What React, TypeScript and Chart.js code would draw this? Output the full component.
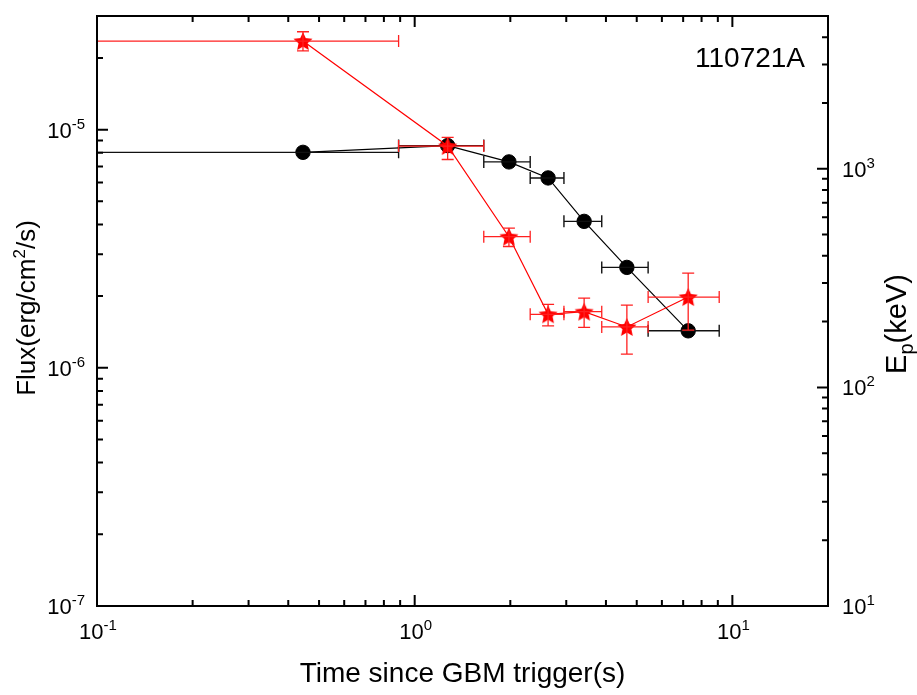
import React, { useEffect, useRef } from "react";
import { Chart, registerables } from "chart.js";

Chart.register(...registerables);

// ---- data ----
const timeCenters = [0.445, 1.27, 1.98, 2.63, 3.415, 4.655, 7.26];
const timeLow = [0, 0.89, 1.65, 2.31, 2.95, 3.88, 5.43];
const timeHigh = [0.89, 1.65, 2.31, 2.95, 3.88, 5.43, 9.09];
const fluxValues = [8.03e-6, 8.57e-6, 7.32e-6, 6.27e-6, 4.12e-6, 2.64e-6, 1.43e-6];
const epValues = [3838, 1271, 489, 216, 222, 189, 259];
const epUpper = [4236, 1392, 535, 240, 256, 238, 333];
const epLower = [3461, 1103, 441, 191, 188, 142, 183];

// ---- axes ----
const xRange = [0.1, 20];
const fluxRange = [1e-7, 3e-5];
const epRange = [10, 5000];
const xMajorTicks = [0.1, 1, 10];
const xTickExponents = ["-1", "0", "1"];
const fluxMajorTicks = [1e-7, 1e-6, 1e-5];
const fluxTickExponents = ["-7", "-6", "-5"];
const epMajorTicks = [10, 100, 1000];
const epTickExponents = ["1", "2", "3"];

const grbName = "110721A";
const xTitle = "Time since GBM trigger(s)";

const FONT = '"Liberation Sans", Arial, Helvetica, sans-serif';

type Part = { t: string; size: number; dy: number };

function drawRich(ctx: CanvasRenderingContext2D, parts: Part[], x: number, y: number, align: "left" | "center" | "right") {
  const widths = parts.map((p) => {
    ctx.font = `${p.size}px ${FONT}`;
    return ctx.measureText(p.t).width;
  });
  const total = widths.reduce((a, b) => a + b, 0);
  let sx = align === "left" ? x : align === "center" ? x - total / 2 : x - total;
  ctx.textAlign = "left";
  ctx.textBaseline = "alphabetic";
  parts.forEach((p, i) => {
    ctx.font = `${p.size}px ${FONT}`;
    ctx.fillText(p.t, sx, y + p.dy);
    sx += widths[i];
  });
}

function minorTicks(majors: number[], min: number, max: number) {
  const out: number[] = [];
  majors.concat([majors[majors.length - 1] * 10]).forEach((m) => {
    for (let k = 2; k <= 9; k++) {
      const v = k * m;
      if (v > min * 1.0001 && v < max * 0.9999) out.push(v);
    }
  });
  return out;
}

function makeStar(): HTMLCanvasElement {
  const c = document.createElement("canvas");
  c.width = 26;
  c.height = 26;
  const g = c.getContext("2d")!;
  const R = 10;
  const r = 4.7;
  g.beginPath();
  for (let i = 0; i < 10; i++) {
    const ang = -Math.PI / 2 + (i * Math.PI) / 5;
    const rad = i % 2 === 0 ? R : r;
    const px = 13 + rad * Math.cos(ang);
    const py = 13.9 + rad * Math.sin(ang);
    if (i === 0) g.moveTo(px, py);
    else g.lineTo(px, py);
  }
  g.closePath();
  g.fillStyle = "#ff0000";
  g.fill();
  return c;
}

export default function App() {
  const canvasRef = useRef<HTMLCanvasElement | null>(null);

  useEffect(() => {
    const canvas = canvasRef.current;
    if (!canvas) return;
    const star = makeStar();

    const errorBarPlugin = {
      id: "errorBars",
      afterDatasetDraw(chart: any, args: any) {
        const ctx: CanvasRenderingContext2D = chart.ctx;
        const xs = chart.scales.x;
        const area = chart.chartArea;
        ctx.save();
        ctx.beginPath();
        ctx.rect(area.left, area.top, area.right - area.left, area.bottom - area.top);
        ctx.clip();
        const cap = 6;
        if (args.index === 1) {
          const ys = chart.scales.yFlux;
          ctx.strokeStyle = "#111111";
          ctx.lineWidth = 1.4;
          timeCenters.forEach((t, i) => {
            const y = ys.getPixelForValue(fluxValues[i]);
            const x0 = xs.getPixelForValue(timeLow[i]);
            const x1 = xs.getPixelForValue(timeHigh[i]);
            ctx.beginPath();
            ctx.moveTo(x0, y);
            ctx.lineTo(x1, y);
            ctx.moveTo(x0, y - cap);
            ctx.lineTo(x0, y + cap);
            ctx.moveTo(x1, y - cap);
            ctx.lineTo(x1, y + cap);
            ctx.stroke();
          });
        } else if (args.index === 0) {
          const ys = chart.scales.yEp;
          ctx.strokeStyle = "#ff2020";
          ctx.lineWidth = 1.3;
          timeCenters.forEach((t, i) => {
            const x = xs.getPixelForValue(t);
            const y = ys.getPixelForValue(epValues[i]);
            const x0 = xs.getPixelForValue(timeLow[i]);
            const x1 = xs.getPixelForValue(timeHigh[i]);
            const yU = ys.getPixelForValue(epUpper[i]);
            const yL = ys.getPixelForValue(epLower[i]);
            ctx.beginPath();
            ctx.moveTo(x0, y);
            ctx.lineTo(x1, y);
            ctx.moveTo(x0, y - cap);
            ctx.lineTo(x0, y + cap);
            ctx.moveTo(x1, y - cap);
            ctx.lineTo(x1, y + cap);
            ctx.moveTo(x, yU);
            ctx.lineTo(x, yL);
            ctx.moveTo(x - cap, yU);
            ctx.lineTo(x + cap, yU);
            ctx.moveTo(x - cap, yL);
            ctx.lineTo(x + cap, yL);
            ctx.stroke();
          });
        }
        ctx.restore();
      },
    };

    const framePlugin = {
      id: "frame",
      beforeDraw(chart: any) {
        const ctx: CanvasRenderingContext2D = chart.ctx;
        ctx.save();
        ctx.fillStyle = "#ffffff";
        ctx.fillRect(0, 0, chart.width, chart.height);
        ctx.restore();
      },
      afterDraw(chart: any) {
        const ctx: CanvasRenderingContext2D = chart.ctx;
        const a = chart.chartArea;
        const xs = chart.scales.x;
        const yf = chart.scales.yFlux;
        const ye = chart.scales.yEp;
        ctx.save();
        ctx.strokeStyle = "#000";
        ctx.lineWidth = 2;
        ctx.strokeRect(a.left, a.top, a.right - a.left, a.bottom - a.top);
        const majorLen = 11;
        const minorLen = 6;
        ctx.beginPath();
        // x ticks bottom & top
        xMajorTicks.forEach((v) => {
          const p = xs.getPixelForValue(v);
          ctx.moveTo(p, a.bottom);
          ctx.lineTo(p, a.bottom - majorLen);
          ctx.moveTo(p, a.top);
          ctx.lineTo(p, a.top + majorLen);
        });
        minorTicks(xMajorTicks, xRange[0], xRange[1]).forEach((v) => {
          const p = xs.getPixelForValue(v);
          ctx.moveTo(p, a.bottom);
          ctx.lineTo(p, a.bottom - minorLen);
          ctx.moveTo(p, a.top);
          ctx.lineTo(p, a.top + minorLen);
        });
        // left flux ticks
        fluxMajorTicks.forEach((v) => {
          const p = yf.getPixelForValue(v);
          ctx.moveTo(a.left, p);
          ctx.lineTo(a.left + majorLen, p);
        });
        minorTicks(fluxMajorTicks, fluxRange[0], fluxRange[1]).forEach((v) => {
          const p = yf.getPixelForValue(v);
          ctx.moveTo(a.left, p);
          ctx.lineTo(a.left + minorLen, p);
        });
        // right Ep ticks
        epMajorTicks.forEach((v) => {
          const p = ye.getPixelForValue(v);
          ctx.moveTo(a.right, p);
          ctx.lineTo(a.right - majorLen, p);
        });
        minorTicks(epMajorTicks, epRange[0], epRange[1]).forEach((v) => {
          const p = ye.getPixelForValue(v);
          ctx.moveTo(a.right, p);
          ctx.lineTo(a.right - minorLen, p);
        });
        ctx.stroke();

        ctx.fillStyle = "#000";
        // tick labels
        xMajorTicks.forEach((v, i) => {
          const p = xs.getPixelForValue(v);
          drawRich(ctx, [{ t: "10", size: 22, dy: 0 }, { t: xTickExponents[i], size: 15, dy: -9 }], p + 1, a.bottom + 33, "center");
        });
        fluxMajorTicks.forEach((v, i) => {
          const p = yf.getPixelForValue(v);
          drawRich(ctx, [{ t: "10", size: 22, dy: 0 }, { t: fluxTickExponents[i], size: 15, dy: -9 }], a.left - 12, p + 8, "right");
        });
        epMajorTicks.forEach((v, i) => {
          const p = ye.getPixelForValue(v);
          drawRich(ctx, [{ t: "10", size: 22, dy: 0 }, { t: epTickExponents[i], size: 15, dy: -9 }], a.right + 14, p + 8, "left");
        });

        // axis titles
        drawRich(ctx, [{ t: xTitle, size: 28, dy: 0 }], (a.left + a.right) / 2, 682, "center");

        ctx.save();
        ctx.translate(35, (a.top + a.bottom) / 2 - 3);
        ctx.rotate(-Math.PI / 2);
        drawRich(
          ctx,
          [
            { t: "Flux(erg/cm", size: 26, dy: 0 },
            { t: "2", size: 17, dy: -10 },
            { t: "/s)", size: 26, dy: 0 },
          ],
          0,
          0,
          "center"
        );
        ctx.restore();

        ctx.save();
        ctx.translate(906, 324);
        ctx.rotate(-Math.PI / 2);
        drawRich(
          ctx,
          [
            { t: "E", size: 29, dy: 0 },
            { t: "p", size: 20, dy: 7 },
            { t: "(keV)", size: 29, dy: 0 },
          ],
          0,
          0,
          "center"
        );
        ctx.restore();

        // GRB name
        drawRich(ctx, [{ t: grbName, size: 28, dy: 0 }], 695, 67, "left");
        ctx.restore();
      },
    };

    const chart = new Chart(canvas, {
      type: "line",
      data: {
        datasets: [
          {
            label: "Ep",
            data: timeCenters.map((t, i) => ({ x: t, y: epValues[i] })),
            yAxisID: "yEp",
            borderColor: "#ff0000",
            borderWidth: 1.2,
            pointStyle: star as any,
            pointRadius: 10,
            backgroundColor: "#ff0000",
            tension: 0,
            fill: false,
          },
          {
            label: "Flux",
            data: timeCenters.map((t, i) => ({ x: t, y: fluxValues[i] })),
            yAxisID: "yFlux",
            borderColor: "#000000",
            borderWidth: 1.2,
            pointStyle: "circle",
            pointRadius: 7.2,
            pointBorderWidth: 1,
            pointBackgroundColor: "#000000",
            pointBorderColor: "#000000",
            tension: 0,
            fill: false,
          },
        ],
      },
      options: {
        animation: false,
        responsive: false,
        maintainAspectRatio: false,
        layout: { padding: { left: 97, top: 16, right: 89, bottom: 89 } },
        plugins: { legend: { display: false }, tooltip: { enabled: false } },
        events: [],
        scales: {
          x: { type: "logarithmic", min: xRange[0], max: xRange[1], display: false },
          yFlux: { type: "logarithmic", position: "left", min: fluxRange[0], max: fluxRange[1], display: false },
          yEp: { type: "logarithmic", position: "right", min: epRange[0], max: epRange[1], display: false },
        },
      },
      plugins: [framePlugin, errorBarPlugin],
    });

    return () => chart.destroy();
  }, []);

  return (
    <div style={{ position: "fixed", left: 0, top: 0, width: 917, height: 695, background: "#fff" }}>
      <canvas ref={canvasRef} width={917} height={695} style={{ display: "block", width: 917, height: 695 }} />
    </div>
  );
}
